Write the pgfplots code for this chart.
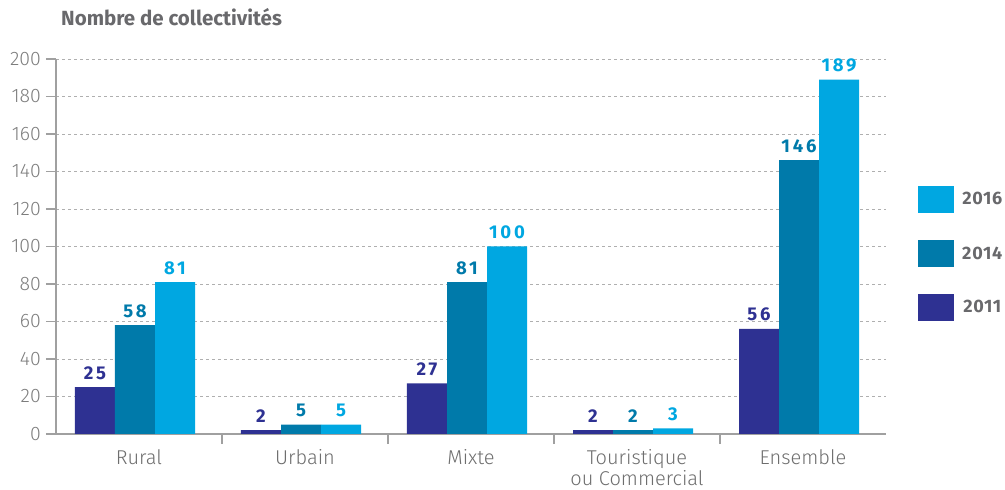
\documentclass[border=0pt]{standalone}
\usepackage{pgfplots}
\pgfplotsset{compat=1.18}
\usepackage{fontspec}
\setmainfont{Fira Sans}
\newfontfamily\lightfont{Fira Sans Light}
\definecolor{cA}{RGB}{46,49,146}
\definecolor{cB}{RGB}{0,122,170}
\definecolor{cC}{RGB}{0,167,225}
\definecolor{titlegray}{RGB}{105,105,108}
\definecolor{tickgray}{RGB}{125,125,125}
\definecolor{labgray}{RGB}{110,110,110}
\definecolor{axisgray}{RGB}{160,160,160}
\definecolor{gridgray}{RGB}{175,175,175}
\begin{document}
\begin{tikzpicture}
\useasboundingbox (-56pt,-56pt) rectangle (949pt,434pt);
\begin{axis}[
  at={(0pt,0pt)}, anchor=south west,
  scale only axis, width=830pt, height=375pt,
  xmin=-0.5, xmax=4.5, ymin=0, ymax=200,
  axis lines=left,
  axis line style={-, draw=axisgray, line width=1.3pt},
  ytick={0,20,...,200},
  ymajorgrids,
  grid style={draw=gridgray, dash pattern=on 3pt off 3pt, line width=0.9pt},
  xtick={0.5,1.5,2.5,3.5}, xticklabels={},
  extra x ticks={0,1,2,3,4},
  extra x tick labels={Rural,Urbain,Mixte,{Touristique\\ou Commercial},Ensemble},
  extra x tick style={major tick length=0pt, grid=none},
  tick align=outside, major tick length=10pt,
  tick style={draw=axisgray, line width=1.3pt},
  /pgf/number format/assume math mode=true,
  yticklabel style={font=\lightfont\fontsize{19.5}{19}\selectfont, text=tickgray, anchor=east, inner sep=0pt, xshift=-5pt},
  xticklabel style={font=\lightfont\fontsize{20}{21}\selectfont, text=labgray, align=center, anchor=north, inner sep=0pt, yshift=-15pt},
  title={Nombre de collectivités},
  title style={at={(0,1)}, anchor=base west, yshift=27pt, xshift=5pt, font=\bfseries\fontsize{20.5}{22}\selectfont, text=titlegray, inner sep=0pt},
  reverse legend,
  legend style={at={(1.0386,0.4813)}, anchor=west, draw=none, fill=none, inner sep=0pt,
    row sep=27pt, column sep=8pt,
    nodes={inner sep=0pt, font=\bfseries\fontsize{18}{18}\selectfont\addfontfeature{LetterSpace=4}, text=titlegray}},
  nodes near coords,
  every node near coord/.append style={font=\bfseries\fontsize{18.5}{18}\selectfont\addfontfeature{LetterSpace=15}, anchor=south, inner sep=0pt, yshift=7.5pt},
]
\addplot[ybar, bar width=40pt, bar shift=-44pt, fill=cA, draw=none,
  every node near coord/.append style={text=cA, xshift=-44pt},
  legend image code/.code={\fill[cA] (0pt,-13.5pt) rectangle (36pt,13.5pt);}]
  coordinates {(0,25) (1,2) (2,27) (3,2) (4,56)};
\addplot[ybar, bar width=40pt, bar shift=-4pt, fill=cB, draw=none,
  every node near coord/.append style={text=cB, xshift=-4pt},
  legend image code/.code={\fill[cB] (0pt,-13.5pt) rectangle (36pt,13.5pt);}]
  coordinates {(0,58) (1,5) (2,81) (3,2) (4,146)};
\addplot[ybar, bar width=40pt, bar shift=36pt, fill=cC, draw=none,
  every node near coord/.append style={text=cC, xshift=36pt},
  legend image code/.code={\fill[cC] (0pt,-13.5pt) rectangle (36pt,13.5pt);}]
  coordinates {(0,81) (1,5) (2,100) (3,3) (4,189)};
\legend{2011,2014,2016}
\end{axis}
\end{tikzpicture}
\end{document}
